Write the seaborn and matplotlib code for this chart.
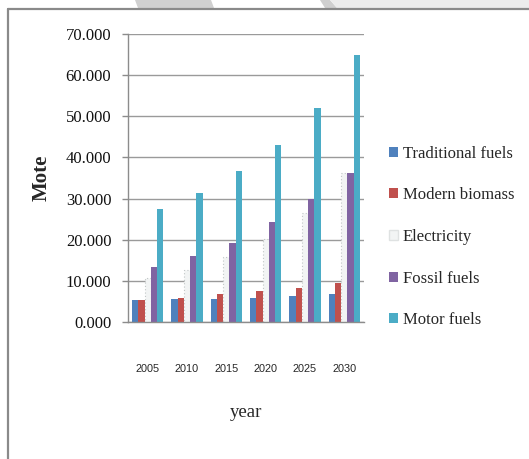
import matplotlib
matplotlib.use("Agg")
import matplotlib.pyplot as plt
from matplotlib.patches import Polygon, Rectangle
from matplotlib.lines import Line2D
import seaborn as sns
import pandas as pd

years = ["2005", "2010", "2015", "2020", "2025", "2030"]
traditional_fuels = [5.3, 5.6, 5.6, 5.9, 6.4, 6.7]
modern_biomass = [5.3, 5.9, 6.7, 7.5, 8.3, 9.6]
electricity = [10.7, 12.6, 15.7, 20.2, 26.4, 36.1]
fossil_fuels = [13.3, 16.0, 19.3, 24.2, 30.0, 36.1]
motor_fuels = [27.5, 31.3, 36.7, 43.0, 52.0, 65.0]

series_names = ["Traditional fuels", "Modern biomass", "Electricity",
                "Fossil fuels", "Motor fuels"]
series_values = [traditional_fuels, modern_biomass, electricity,
                 fossil_fuels, motor_fuels]
colors = ["#4F81BD", "#C0504D", "#F2F4F4", "#8064A2", "#4BACC6"]

rows = []
for name, vals in zip(series_names, series_values):
    for yr, v in zip(years, vals):
        rows.append({"year": yr, "series": name, "Mote": v})
df = pd.DataFrame(rows)

sns.set_theme(style="white")
plt.rcParams["font.family"] = ["Liberation Serif", "DejaVu Serif"]

fig = plt.figure(figsize=(5.29, 4.59), dpi=100)
ax = fig.add_axes([128 / 529, 1 - 322 / 459, 236 / 529, 288 / 459])

sns.barplot(data=df, x="year", y="Mote", hue="series", order=years,
            hue_order=series_names, palette=colors, width=0.8,
            saturation=1, errorbar=None, legend=False, ax=ax,
            edgecolor="none")

# electricity bars: pale fill with faint dotted outline
for container, name in zip(ax.containers, series_names):
    if name == "Electricity":
        for bar in container:
            bar.set_edgecolor("#c0c6c6")
            bar.set_linestyle((0, (1, 2)))
            bar.set_linewidth(0.8)

ax.set_ylim(0, 70)
ax.set_yticks(range(0, 71, 10))
ax.set_yticklabels([f"{v:.3f}" for v in range(0, 71, 10)], fontsize=12)
ax.set_xlim(-0.5, len(years) - 0.5)
ax.yaxis.grid(True, color="#9a9a9a", linewidth=1)
ax.set_axisbelow(True)

for side in ["top", "right"]:
    ax.spines[side].set_visible(False)
for side in ["left", "bottom"]:
    ax.spines[side].set_color("#8c8c8c")
    ax.spines[side].set_linewidth(1)

ax.tick_params(axis="y", left=True, length=4, width=1, color="#8c8c8c",
               pad=8, labelcolor="#111111")
ax.tick_params(axis="x", bottom=False, pad=24)
for lab in ax.get_xticklabels():
    lab.set_fontfamily(["Liberation Sans", "DejaVu Sans"])
    lab.set_fontsize(7.8)

ax.set_ylabel("Mote", fontsize=15, fontweight="bold")
ax.yaxis.set_label_coords(-0.325, 0.5)
ax.set_xlabel("year", fontsize=13.5)
ax.xaxis.set_label_coords(0.5, -0.285)

handles = [Rectangle((0, 0), 1, 1, facecolor=c,
                     edgecolor=("#dfe2e2" if n == "Electricity" else "none"))
           for c, n in zip(colors, series_names)]
fig.legend(handles, series_names, loc="center left",
           bbox_to_anchor=(382 / 529, 1 - 237 / 459), frameon=False,
           fontsize=12, handlelength=0.55, handleheight=0.55,
           handletextpad=0.3, labelspacing=1.54, borderaxespad=0)

# outer chart frame and decorative strip above it
fig.add_artist(Line2D([8 / 529, 8 / 529], [0, 1 - 9 / 459],
                      transform=fig.transFigure, color="#8a8a8a", lw=1.6))
fig.add_artist(Line2D([8 / 529, 1], [1 - 9 / 459, 1 - 9 / 459],
                      transform=fig.transFigure, color="#8a8a8a", lw=1.6))

def px_poly(points, color):
    pts = [(x / 529, 1 - y / 459) for x, y in points]
    fig.add_artist(Polygon(pts, closed=True, transform=fig.transFigure,
                           facecolor=color, edgecolor="none"))

px_poly([(135, 0), (211, 0), (214, 8), (138, 8)], "#d0d0d0")
px_poly([(320, 0), (330, 0), (337, 8), (325, 8)], "#cfcfcf")
px_poly([(330, 0), (529, 0), (529, 8), (337, 8)], "#ececec")

fig.savefig("out.png", dpi=100)
